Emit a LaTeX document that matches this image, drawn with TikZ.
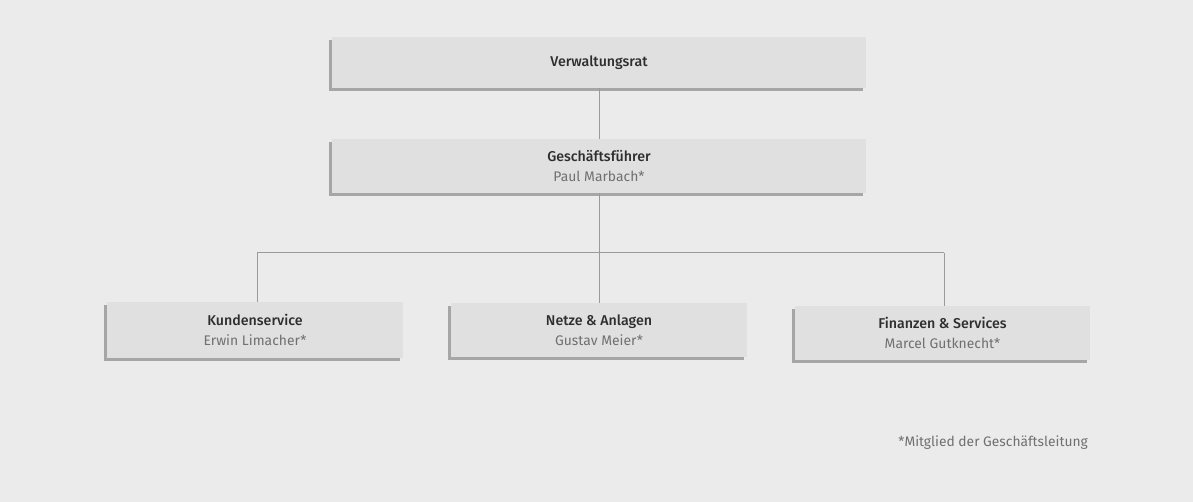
\documentclass[tikz,border=0pt]{standalone}
\usepackage{fontspec}
\setmainfont{Fira Sans}
\newfontfamily\medfont{Fira Sans Medium}
\usetikzlibrary{positioning}
\definecolor{bg}{HTML}{EBEBEB}
\definecolor{boxfill}{HTML}{E0E0E0}
\definecolor{shadowc}{HTML}{A6A6A6}
\definecolor{linec}{HTML}{9A9A9A}
\definecolor{titlec}{HTML}{2E2E2E}
\definecolor{namec}{HTML}{707070}
\tikzset{
  orgbox/.style={fill=boxfill, draw=none, minimum height=#1, inner sep=0pt, align=center,
    font=\fontsize{13.9}{19.5}\selectfont,
    preaction={fill=shadowc, transform canvas={shift={(-3pt,-3pt)}}}},
  orgbox/.default=51pt,
  conn/.style={draw=linec, line width=1pt},
}
\newcommand{\ttlname}[2]{{\medfont\fontsize{14.2}{19.5}\selectfont\color{titlec}#1}\\{\color{namec}#2}}
\begin{document}
\begin{tikzpicture}[x=1pt,y=-1pt]
\fill[bg] (0,0) rectangle (1193,502);
\useasboundingbox (0,0) rectangle (1193,502);
\node[orgbox=51pt, minimum width=534pt] (vr) at (599,62.5) {\medfont\fontsize{14.2}{19.5}\selectfont\color{titlec}Verwaltungsrat};
\node[orgbox=54pt, minimum width=534pt] (gf) at (599,166) {\ttlname{Geschäftsführer}{Paul Marbach*}};
\node[orgbox=56pt, minimum width=296pt] (ks) at (255,330) {\ttlname{Kundenservice}{Erwin Limacher*}};
\node[orgbox=54pt, minimum width=296pt] (na) at (599,330) {\ttlname{Netze \& Anlagen}{Gustav Meier*}};
\node[orgbox=54pt, minimum width=295pt] (fs) at (942.5,333) {\ttlname{Finanzen \& Services}{Marcel Gutknecht*}};
\coordinate (hl) at (257,253);
\coordinate (hr) at (944,253);
\coordinate (hm) at (599,253);
\draw[conn] (vr.south) -- (gf.north);
\draw[conn] (gf.south) -- (hm);
\draw[conn] (hl) -- (hr);
\draw[conn] (hl) -- (hl |- ks.north);
\draw[conn] (hm) -- (na.north);
\draw[conn] (hr) -- (hr |- fs.north);
\node[anchor=east, text=namec, font=\fontsize{13.8}{15}\selectfont, inner sep=0pt] (fn) at (1088,443) {*Mitglied der Geschäftsleitung};
\end{tikzpicture}
\end{document}
